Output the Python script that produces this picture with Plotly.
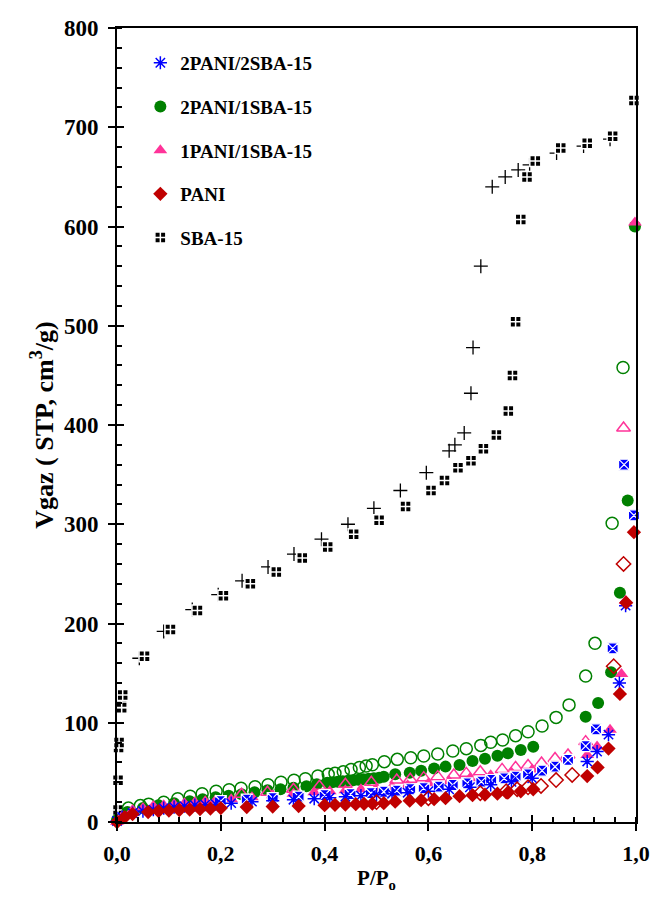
import plotly.graph_objects as go

# ---------------- data ----------------
sba_ads_x = [0.002, 0.002, 0.003, 0.004, 0.009, 0.009, 0.011, 0.053, 0.103, 0.155, 0.205, 0.257, 0.307,
             0.357, 0.406, 0.456, 0.505, 0.556, 0.605, 0.631, 0.657, 0.682, 0.706, 0.731, 0.754, 0.762,
             0.768, 0.778, 0.790, 0.806, 0.855, 0.906, 0.955, 0.996]
sba_ads_y = [12, 42, 75, 80, 115, 121, 128, 167, 194, 213, 228, 240, 252,
             266, 277, 290, 304, 318, 334, 344, 357, 364, 376, 390, 414, 450,
             504, 607, 650, 666, 679, 684, 691, 727]
sba_des_x = [0.043, 0.090, 0.145, 0.195, 0.241, 0.291, 0.341, 0.394, 0.445, 0.495, 0.546, 0.596, 0.640,
             0.651, 0.669, 0.682, 0.686, 0.701, 0.723, 0.748, 0.773, 0.795, 0.847, 0.899, 0.950]
sba_des_y = [165, 192, 214, 229, 243, 257, 270, 285, 300, 316, 334, 352, 374,
             380, 392, 432, 478, 560, 640, 650, 657, 662, 674, 681, 688]

g_ads_x = [0.0, 0.02, 0.05, 0.08, 0.11, 0.14, 0.165, 0.19, 0.215, 0.24, 0.265, 0.29, 0.315, 0.34, 0.365,
           0.385, 0.405, 0.415, 0.425, 0.435, 0.445, 0.455, 0.465, 0.475, 0.485, 0.495, 0.505, 0.514,
           0.536, 0.564, 0.586, 0.611, 0.633, 0.660, 0.685, 0.709, 0.733, 0.753, 0.778, 0.802,
           0.903, 0.927, 0.952, 0.969, 0.984, 0.998]
g_ads_y = [2, 10, 14, 17, 19, 21, 23, 25, 26.5, 28, 30, 32, 33, 34.5, 36,
           38, 39.5, 40, 40.5, 41, 41.5, 42, 42.5, 43, 43.5, 44, 44.5, 45.7,
           48, 49.7, 51.7, 54, 55.8, 57.4, 61.5, 63.8, 66.8, 69.2, 72.5, 75.9,
           106, 120, 151, 231, 324, 600]
g_des_x = [0.022, 0.045, 0.061, 0.090, 0.117, 0.141, 0.164, 0.191, 0.216, 0.239, 0.266, 0.291, 0.316,
           0.341, 0.363, 0.387, 0.407, 0.420, 0.436, 0.451, 0.467, 0.480, 0.492, 0.515, 0.540, 0.566,
           0.591, 0.618, 0.647, 0.673, 0.701, 0.720, 0.743, 0.768, 0.792, 0.819, 0.846, 0.871, 0.903,
           0.921, 0.954, 0.975]
g_des_y = [14, 16.5, 18, 20, 23.5, 26, 28.5, 31, 32.5, 34, 35.5, 37.5, 40,
           42, 43.6, 46.3, 48, 49, 50.7, 53, 55, 56.4, 57.7, 60.8, 63.1, 64.8,
           66.5, 68.5, 71.5, 73.9, 77.2, 80.3, 82.6, 87, 91, 96.7, 105.4, 118, 147,
           180, 301, 458]

p_ads_x = [0.0, 0.01, 0.03, 0.05, 0.07, 0.09, 0.11, 0.13, 0.15, 0.17, 0.19, 0.22, 0.26, 0.30, 0.34,
           0.38, 0.41, 0.44, 0.47, 0.50, 0.53, 0.56, 0.60, 0.64, 0.68, 0.72, 0.76, 0.80,
           0.906, 0.925, 0.950, 0.972, 0.980, 0.998]
p_ads_y = [0, 6, 12, 14, 16, 17, 18, 19, 20, 21, 22, 23, 25, 27, 28.5,
           30, 31, 32, 33, 34, 35.5, 37, 39, 41, 44, 47, 50, 53,
           67.5, 76, 93, 149, 223, 604]
p_des_x = [0.24, 0.29, 0.34, 0.39, 0.44, 0.49, 0.539, 0.565, 0.591, 0.618, 0.649, 0.673, 0.700, 0.742,
           0.768, 0.792, 0.818, 0.844, 0.869, 0.903, 0.976]
p_des_y = [28, 30, 33, 36, 38, 40, 42.3, 43, 44.7, 45.7, 47.4, 49, 50.7, 53,
           55, 57, 59.4, 64, 67.5, 81, 397]

b_ads_x = [0.0, 0.01, 0.03, 0.05, 0.07, 0.09, 0.11, 0.13, 0.15, 0.17, 0.19, 0.22, 0.26, 0.30, 0.34,
           0.38, 0.41, 0.44, 0.47, 0.50, 0.53, 0.56, 0.60, 0.64, 0.68, 0.72, 0.76, 0.80,
           0.906, 0.925, 0.947, 0.968, 0.980]
b_ads_y = [1, 5, 9, 11, 12.5, 14, 15, 16, 17, 17.5, 18, 19, 20.5, 21.5, 22.5,
           23.5, 24.5, 25.5, 26.5, 27.5, 28.5, 29.5, 31, 33, 35, 37.5, 40.5, 44,
           61, 71, 88, 140, 218]
b_des_x = [0.20, 0.25, 0.30, 0.35, 0.40, 0.45, 0.489, 0.514, 0.539, 0.565, 0.591, 0.620, 0.647, 0.675,
           0.702, 0.721, 0.746, 0.768, 0.792, 0.819, 0.844, 0.869, 0.903, 0.923, 0.955, 0.977, 0.996]
b_des_y = [21, 22.5, 24, 25.5, 27, 28, 29, 30.5, 31.6, 33, 34, 35.6, 37.3, 39,
           40.6, 42.3, 44, 45.7, 48, 51.7, 55.7, 62.5, 76.5, 93.4, 175, 360, 309]

r_ads_x = [0.0, 0.015, 0.03, 0.06, 0.08, 0.10, 0.12, 0.14, 0.16, 0.18, 0.20, 0.25, 0.30, 0.35, 0.40,
           0.42, 0.44, 0.46, 0.476, 0.492, 0.514, 0.536, 0.564, 0.586, 0.611, 0.633, 0.660, 0.685,
           0.709, 0.733, 0.753, 0.778, 0.802, 0.906, 0.926, 0.947, 0.969, 0.981, 0.996]
r_ads_y = [0, 5, 8, 10, 11, 11.5, 12, 12.5, 13, 13.5, 14, 15, 15.5, 16, 17,
           17.3, 17.6, 18, 18.3, 18.5, 19, 20.5, 21.5, 22, 23, 24, 26, 27,
           27.5, 28.5, 29.5, 31, 33, 46.3, 55, 74, 129, 221, 292]
r_des_x = [0.50, 0.60, 0.70, 0.75, 0.771, 0.792, 0.817, 0.846, 0.877, 0.957, 0.976]
r_des_y = [20, 24, 29, 31, 33, 35, 36.3, 42.3, 47.4, 157, 260]

x_ticks = [0.0, 0.2, 0.4, 0.6, 0.8, 1.0]
y_ticks = [0, 100, 200, 300, 400, 500, 600, 700, 800]

BLUE = "#0000ff"
GREEN = "#008000"
PINK = "#ff3399"
RED = "#c00000"
BLACK = "#000000"

fig = go.Figure()

def add(x, y, name, symbol, color, size, lw, lcolor, show, rank):
    fig.add_trace(go.Scatter(
        x=x, y=y, mode="markers", name=name, showlegend=show,
        legendgroup=name if show else None, legendrank=rank,
        marker=dict(symbol=symbol, color=color, size=size,
                    line=dict(width=lw, color=lcolor)),
        cliponaxis=False, hoverinfo="skip"))

add(sba_des_x, sba_des_y, "SBA-15 des", "cross-thin-open", BLACK, 10, 1.3, BLACK, False, 100)
add(sba_ads_x, sba_ads_y, "SBA-15", "square-cross", BLACK, 11, 1.5, "white", True, 5)
add(g_des_x, g_des_y, "g des", "circle-open", GREEN, 12, 1.5, GREEN, False, 100)
add(g_ads_x, g_ads_y, "2PANI/1SBA-15", "circle", GREEN, 12, 0, GREEN, True, 2)
add(p_des_x, p_des_y, "p des", "triangle-up-open", PINK, 12, 1.5, PINK, False, 100)
add(p_ads_x, p_ads_y, "1PANI/1SBA-15", "triangle-up", PINK, 12, 0, PINK, True, 3)
add(b_des_x, b_des_y, "b des", "square-x", BLUE, 11, 1.2, "white", False, 100)
add(b_ads_x, b_ads_y, "2PANI/2SBA-15", "asterisk-open", BLUE, 11, 1.5, BLUE, True, 1)
add(r_des_x, r_des_y, "r des", "diamond-open", RED, 11, 1.5, RED, False, 100)
add(r_ads_x, r_ads_y, "PANI", "diamond", RED, 11, 0, RED, True, 4)

# invisible trace on overlay axes (for crossing major ticks)
fig.add_trace(go.Scatter(x=[None], y=[None], xaxis="x2", yaxis="y2", showlegend=False,
                         mode="markers", hoverinfo="skip"))

FONT = "Liberation Serif"
axis_common = dict(showgrid=False, zeroline=False, linecolor="black", linewidth=2,
                   ticks="outside", ticklen=7, tickwidth=2, tickcolor="black")

fig.update_layout(
    width=662, height=906,
    margin=dict(l=117, r=14, t=28, b=84),
    paper_bgcolor="white", plot_bgcolor="white",
    separators=", ",
    font=dict(family=FONT, size=22, color="black", weight="bold"),
    xaxis=dict(range=[0, 1], tickvals=x_ticks, tickformat=".1f", mirror=True,
               tickfont=dict(family=FONT, size=22, weight="bold"), ticklabelstandoff=4,
               minor=dict(ticks="inside", dtick=0.04, ticklen=5, tickwidth=1.5, tickcolor="black"),
               title=dict(text="P/P<sub>o</sub>", font=dict(size=21), standoff=5),
               **axis_common),
    yaxis=dict(range=[0, 800], tickvals=y_ticks, mirror=True,
               tickfont=dict(family=FONT, size=23, weight="bold"), ticklabelstandoff=5,
               minor=dict(ticks="inside", dtick=20, ticklen=5, tickwidth=1.5, tickcolor="black"),
               title=dict(text="Vgaz ( STP, cm<sup>3</sup>/g)", font=dict(size=26), standoff=3),
               **axis_common),
    xaxis2=dict(range=[0, 1], tickvals=x_ticks, overlaying="x", anchor="y2", showticklabels=False,
                ticks="inside", ticklen=7, tickwidth=2, tickcolor="black", showgrid=False,
                zeroline=False, showline=False),
    yaxis2=dict(range=[0, 800], tickvals=y_ticks, overlaying="y", anchor="x2", showticklabels=False,
                ticks="inside", ticklen=7, tickwidth=2, tickcolor="black", showgrid=False,
                zeroline=False, showline=False),
    legend=dict(x=0.045, y=0.98, xanchor="left", yanchor="top", bgcolor="rgba(0,0,0,0)",
                font=dict(family=FONT, size=19, weight="bold"), tracegroupgap=16,
                itemwidth=30),
    showlegend=True,
)

fig.write_html("out.html")
